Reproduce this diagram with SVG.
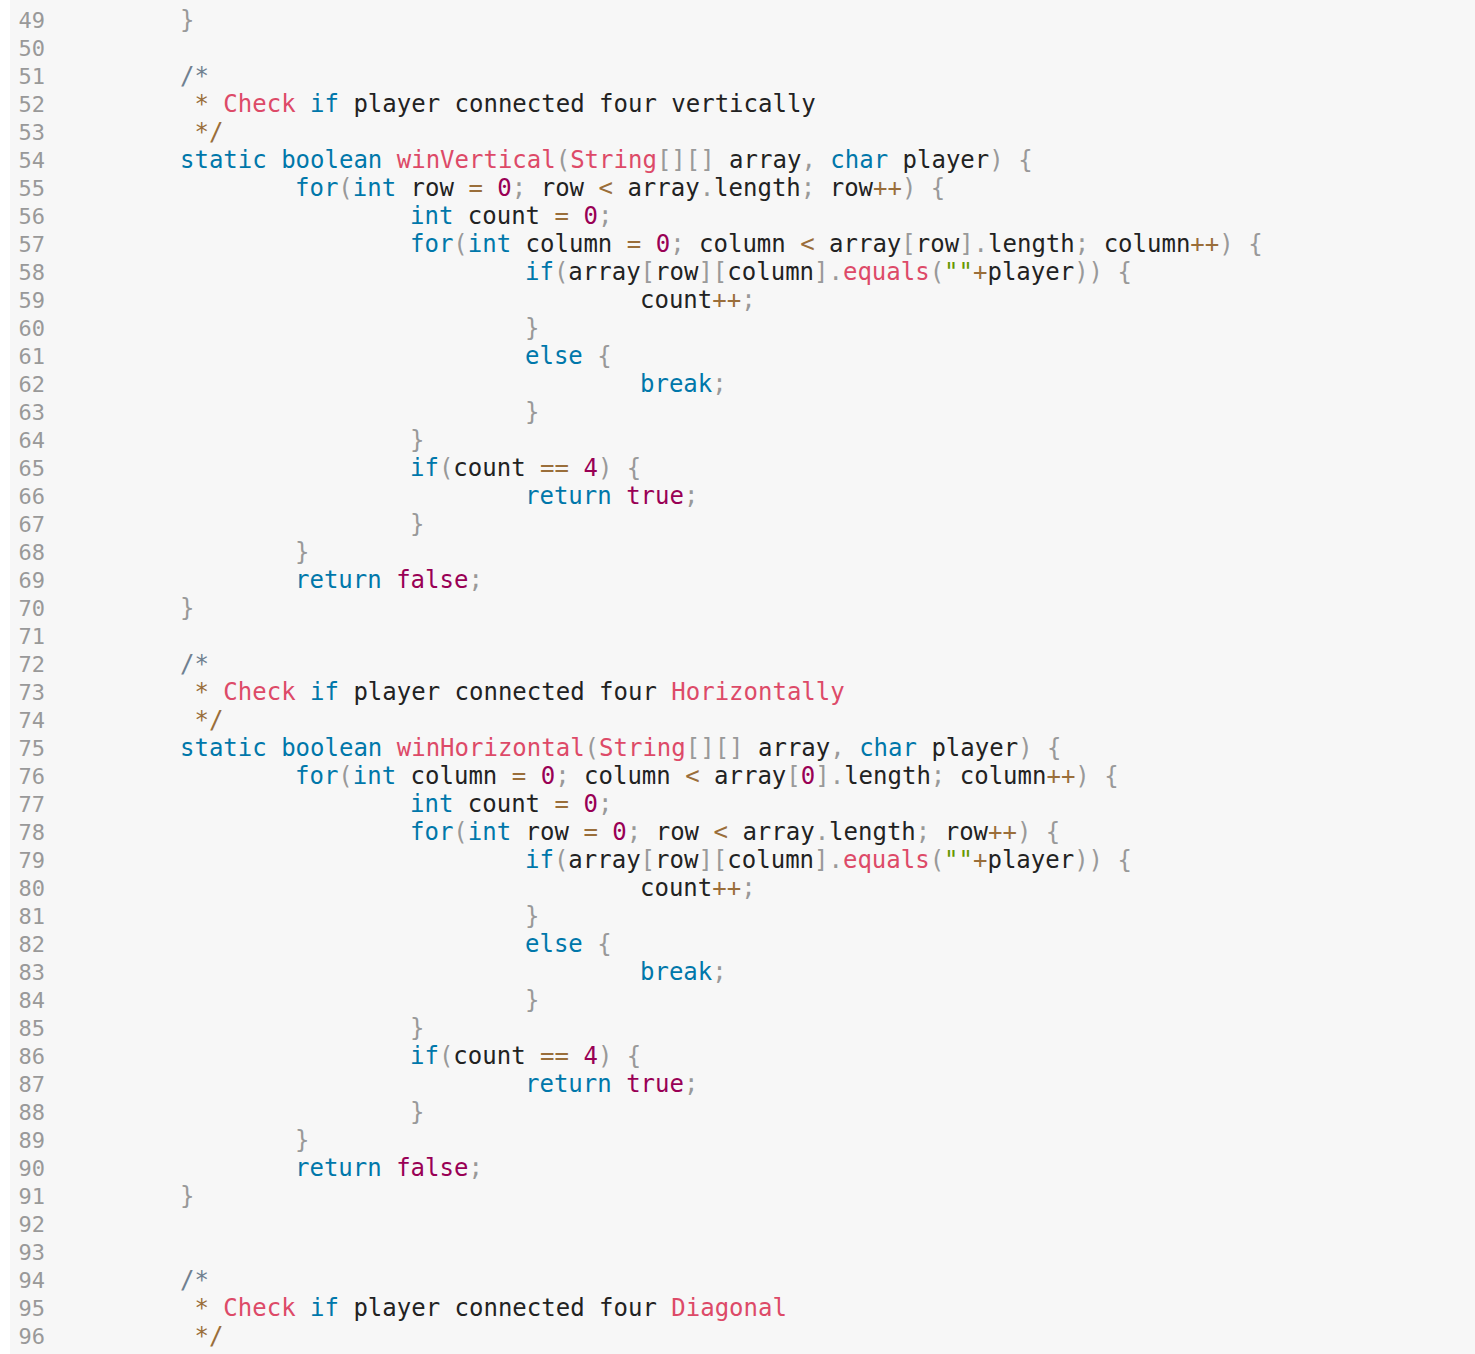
<svg xmlns="http://www.w3.org/2000/svg" width="1475" height="1354" viewBox="0 0 1475 1354">
<style>
text{font-family:"DejaVu Sans Mono","Liberation Mono",monospace;font-size:24px;fill:#222;white-space:pre}
.ln{fill:#999;font-size:22px;text-anchor:end}
.k{fill:#0077aa}.f{fill:#dd4a68}.n{fill:#990055}.o{fill:#9a6e3a}.p{fill:#999}.c{fill:#708090}.s{fill:#669900}
</style>
<rect width="1475" height="1354" fill="#f7f7f7"/>
<rect width="10" height="1354" fill="#ffffff"/>
<g id="linenumbers">
<text class="ln" x="45" y="28">49</text><text class="ln" x="45" y="56">50</text><text class="ln" x="45" y="84">51</text><text class="ln" x="45" y="112">52</text><text class="ln" x="45" y="140">53</text><text class="ln" x="45" y="168">54</text><text class="ln" x="45" y="196">55</text><text class="ln" x="45" y="224">56</text><text class="ln" x="45" y="252">57</text><text class="ln" x="45" y="280">58</text><text class="ln" x="45" y="308">59</text><text class="ln" x="45" y="336">60</text><text class="ln" x="45" y="364">61</text><text class="ln" x="45" y="392">62</text><text class="ln" x="45" y="420">63</text><text class="ln" x="45" y="448">64</text><text class="ln" x="45" y="476">65</text><text class="ln" x="45" y="504">66</text><text class="ln" x="45" y="532">67</text><text class="ln" x="45" y="560">68</text><text class="ln" x="45" y="588">69</text><text class="ln" x="45" y="616">70</text><text class="ln" x="45" y="644">71</text><text class="ln" x="45" y="672">72</text><text class="ln" x="45" y="700">73</text><text class="ln" x="45" y="728">74</text><text class="ln" x="45" y="756">75</text><text class="ln" x="45" y="784">76</text><text class="ln" x="45" y="812">77</text><text class="ln" x="45" y="840">78</text><text class="ln" x="45" y="868">79</text><text class="ln" x="45" y="896">80</text><text class="ln" x="45" y="924">81</text><text class="ln" x="45" y="952">82</text><text class="ln" x="45" y="980">83</text><text class="ln" x="45" y="1008">84</text><text class="ln" x="45" y="1036">85</text><text class="ln" x="45" y="1064">86</text><text class="ln" x="45" y="1092">87</text><text class="ln" x="45" y="1120">88</text><text class="ln" x="45" y="1148">89</text><text class="ln" x="45" y="1176">90</text><text class="ln" x="45" y="1204">91</text><text class="ln" x="45" y="1232">92</text><text class="ln" x="45" y="1260">93</text><text class="ln" x="45" y="1288">94</text><text class="ln" x="45" y="1316">95</text><text class="ln" x="45" y="1344">96</text>
</g>
<g id="code">
<text x="180" y="28"><tspan class="p">}</tspan></text>
<text x="180" y="84"><tspan class="c">/*</tspan></text>
<text x="180" y="112"> <tspan class="o">*</tspan> <tspan class="f">Check</tspan> <tspan class="k">if</tspan> player connected four vertically</text>
<text x="180" y="140"> <tspan class="o">*/</tspan></text>
<text x="180" y="168"><tspan class="k">static</tspan> <tspan class="k">boolean</tspan> <tspan class="f">winVertical</tspan><tspan class="p">(</tspan><tspan class="f">String</tspan><tspan class="p">[][]</tspan> array<tspan class="p">,</tspan> <tspan class="k">char</tspan> player<tspan class="p">)</tspan> <tspan class="p">{</tspan></text>
<text x="295" y="196"><tspan class="k">for</tspan><tspan class="p">(</tspan><tspan class="k">int</tspan> row <tspan class="o">=</tspan> <tspan class="n">0</tspan><tspan class="p">;</tspan> row <tspan class="o">&lt;</tspan> array<tspan class="p">.</tspan>length<tspan class="p">;</tspan> row<tspan class="o">++</tspan><tspan class="p">)</tspan> <tspan class="p">{</tspan></text>
<text x="410" y="224"><tspan class="k">int</tspan> count <tspan class="o">=</tspan> <tspan class="n">0</tspan><tspan class="p">;</tspan></text>
<text x="410" y="252"><tspan class="k">for</tspan><tspan class="p">(</tspan><tspan class="k">int</tspan> column <tspan class="o">=</tspan> <tspan class="n">0</tspan><tspan class="p">;</tspan> column <tspan class="o">&lt;</tspan> array<tspan class="p">[</tspan>row<tspan class="p">]</tspan><tspan class="p">.</tspan>length<tspan class="p">;</tspan> column<tspan class="o">++</tspan><tspan class="p">)</tspan> <tspan class="p">{</tspan></text>
<text x="525" y="280"><tspan class="k">if</tspan><tspan class="p">(</tspan>array<tspan class="p">[</tspan>row<tspan class="p">][</tspan>column<tspan class="p">].</tspan><tspan class="f">equals</tspan><tspan class="p">(</tspan><tspan class="s">""</tspan><tspan class="o">+</tspan>player<tspan class="p">))</tspan> <tspan class="p">{</tspan></text>
<text x="640" y="308">count<tspan class="o">++</tspan><tspan class="p">;</tspan></text>
<text x="525" y="336"><tspan class="p">}</tspan></text>
<text x="525" y="364"><tspan class="k">else</tspan> <tspan class="p">{</tspan></text>
<text x="640" y="392"><tspan class="k">break</tspan><tspan class="p">;</tspan></text>
<text x="525" y="420"><tspan class="p">}</tspan></text>
<text x="410" y="448"><tspan class="p">}</tspan></text>
<text x="410" y="476"><tspan class="k">if</tspan><tspan class="p">(</tspan>count <tspan class="o">==</tspan> <tspan class="n">4</tspan><tspan class="p">)</tspan> <tspan class="p">{</tspan></text>
<text x="525" y="504"><tspan class="k">return</tspan> <tspan class="n">true</tspan><tspan class="p">;</tspan></text>
<text x="410" y="532"><tspan class="p">}</tspan></text>
<text x="295" y="560"><tspan class="p">}</tspan></text>
<text x="295" y="588"><tspan class="k">return</tspan> <tspan class="n">false</tspan><tspan class="p">;</tspan></text>
<text x="180" y="616"><tspan class="p">}</tspan></text>
<text x="180" y="672"><tspan class="c">/*</tspan></text>
<text x="180" y="700"> <tspan class="o">*</tspan> <tspan class="f">Check</tspan> <tspan class="k">if</tspan> player connected four <tspan class="f">Horizontally</tspan></text>
<text x="180" y="728"> <tspan class="o">*/</tspan></text>
<text x="180" y="756"><tspan class="k">static</tspan> <tspan class="k">boolean</tspan> <tspan class="f">winHorizontal</tspan><tspan class="p">(</tspan><tspan class="f">String</tspan><tspan class="p">[][]</tspan> array<tspan class="p">,</tspan> <tspan class="k">char</tspan> player<tspan class="p">)</tspan> <tspan class="p">{</tspan></text>
<text x="295" y="784"><tspan class="k">for</tspan><tspan class="p">(</tspan><tspan class="k">int</tspan> column <tspan class="o">=</tspan> <tspan class="n">0</tspan><tspan class="p">;</tspan> column <tspan class="o">&lt;</tspan> array<tspan class="p">[</tspan><tspan class="n">0</tspan><tspan class="p">].</tspan>length<tspan class="p">;</tspan> column<tspan class="o">++</tspan><tspan class="p">)</tspan> <tspan class="p">{</tspan></text>
<text x="410" y="812"><tspan class="k">int</tspan> count <tspan class="o">=</tspan> <tspan class="n">0</tspan><tspan class="p">;</tspan></text>
<text x="410" y="840"><tspan class="k">for</tspan><tspan class="p">(</tspan><tspan class="k">int</tspan> row <tspan class="o">=</tspan> <tspan class="n">0</tspan><tspan class="p">;</tspan> row <tspan class="o">&lt;</tspan> array<tspan class="p">.</tspan>length<tspan class="p">;</tspan> row<tspan class="o">++</tspan><tspan class="p">)</tspan> <tspan class="p">{</tspan></text>
<text x="525" y="868"><tspan class="k">if</tspan><tspan class="p">(</tspan>array<tspan class="p">[</tspan>row<tspan class="p">][</tspan>column<tspan class="p">].</tspan><tspan class="f">equals</tspan><tspan class="p">(</tspan><tspan class="s">""</tspan><tspan class="o">+</tspan>player<tspan class="p">))</tspan> <tspan class="p">{</tspan></text>
<text x="640" y="896">count<tspan class="o">++</tspan><tspan class="p">;</tspan></text>
<text x="525" y="924"><tspan class="p">}</tspan></text>
<text x="525" y="952"><tspan class="k">else</tspan> <tspan class="p">{</tspan></text>
<text x="640" y="980"><tspan class="k">break</tspan><tspan class="p">;</tspan></text>
<text x="525" y="1008"><tspan class="p">}</tspan></text>
<text x="410" y="1036"><tspan class="p">}</tspan></text>
<text x="410" y="1064"><tspan class="k">if</tspan><tspan class="p">(</tspan>count <tspan class="o">==</tspan> <tspan class="n">4</tspan><tspan class="p">)</tspan> <tspan class="p">{</tspan></text>
<text x="525" y="1092"><tspan class="k">return</tspan> <tspan class="n">true</tspan><tspan class="p">;</tspan></text>
<text x="410" y="1120"><tspan class="p">}</tspan></text>
<text x="295" y="1148"><tspan class="p">}</tspan></text>
<text x="295" y="1176"><tspan class="k">return</tspan> <tspan class="n">false</tspan><tspan class="p">;</tspan></text>
<text x="180" y="1204"><tspan class="p">}</tspan></text>
<text x="180" y="1288"><tspan class="c">/*</tspan></text>
<text x="180" y="1316"> <tspan class="o">*</tspan> <tspan class="f">Check</tspan> <tspan class="k">if</tspan> player connected four <tspan class="f">Diagonal</tspan></text>
<text x="180" y="1344"> <tspan class="o">*/</tspan></text>
</g>
</svg>
